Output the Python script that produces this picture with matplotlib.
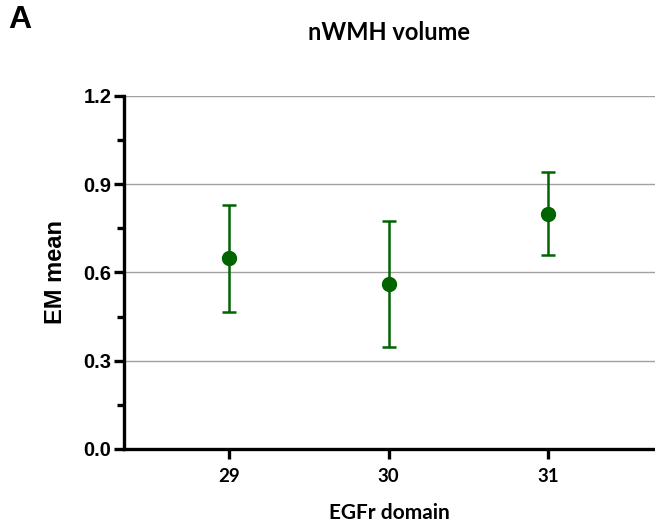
import matplotlib
matplotlib.use("Agg")
import matplotlib.pyplot as plt
from matplotlib.ticker import MultipleLocator

domains = [29, 30, 31]
em_mean = [0.648, 0.562, 0.798]
ci_lower = [0.467, 0.347, 0.658]
ci_upper = [0.830, 0.776, 0.941]
y_ticks = [0.0, 0.3, 0.6, 0.9, 1.2]

green = "#006400"

fig = plt.figure(figsize=(6.55, 5.30), dpi=100)
ax = fig.add_axes([0.189, 0.153, 0.811, 0.666])

err_low = [m - lo for m, lo in zip(em_mean, ci_lower)]
err_high = [hi - m for m, hi in zip(em_mean, ci_upper)]
ax.errorbar(domains, em_mean, yerr=[err_low, err_high], fmt="o", color=green,
            markersize=10, elinewidth=1.8, capsize=5, capthick=1.8, zorder=3,
            clip_on=False)

ax.set_xlim(28.34, 31.67)
ax.set_ylim(0, 1.2)
ax.set_xticks(domains)
ax.set_yticks(y_ticks)
ax.set_yticklabels([f"{v:.1f}" for v in y_ticks])
ax.yaxis.set_minor_locator(MultipleLocator(0.15))
ax.yaxis.grid(True, which="major", color="#a0a0a0", linewidth=1.0)
ax.set_axisbelow(True)

for side in ("top", "right"):
    ax.spines[side].set_visible(False)
for side in ("left", "bottom"):
    ax.spines[side].set_linewidth(2.4)

ax.tick_params(axis="both", which="major", width=2.4, length=7, direction="out")
ax.tick_params(axis="y", which="minor", width=2.4, length=5, direction="out")
ax.tick_params(axis="y", which="major", pad=2)
ax.tick_params(axis="x", pad=7)

for lab in ax.get_yticklabels():
    lab.set_fontfamily("Liberation Sans")
    lab.set_fontweight("bold")
    lab.set_fontsize(14.5)
for lab in ax.get_xticklabels():
    lab.set_fontfamily("Lato")
    lab.set_fontweight("bold")
    lab.set_fontsize(13.5)

ax.set_ylabel("EM mean", fontfamily="Liberation Sans", fontweight="bold",
              fontsize=17, labelpad=12)
ax.set_xlabel("EGFr domain", fontfamily="Lato", fontweight="bold",
              fontsize=15, labelpad=13)

fig.text(0.594, 0.938, "nWMH volume", fontfamily="Lato", fontweight="bold",
         fontsize=17, ha="center", va="center")
fig.text(0.012, 0.962, "A", fontfamily="Liberation Sans", fontweight="bold",
         fontsize=23, ha="left", va="center")

fig.savefig("out.png", dpi=100)
